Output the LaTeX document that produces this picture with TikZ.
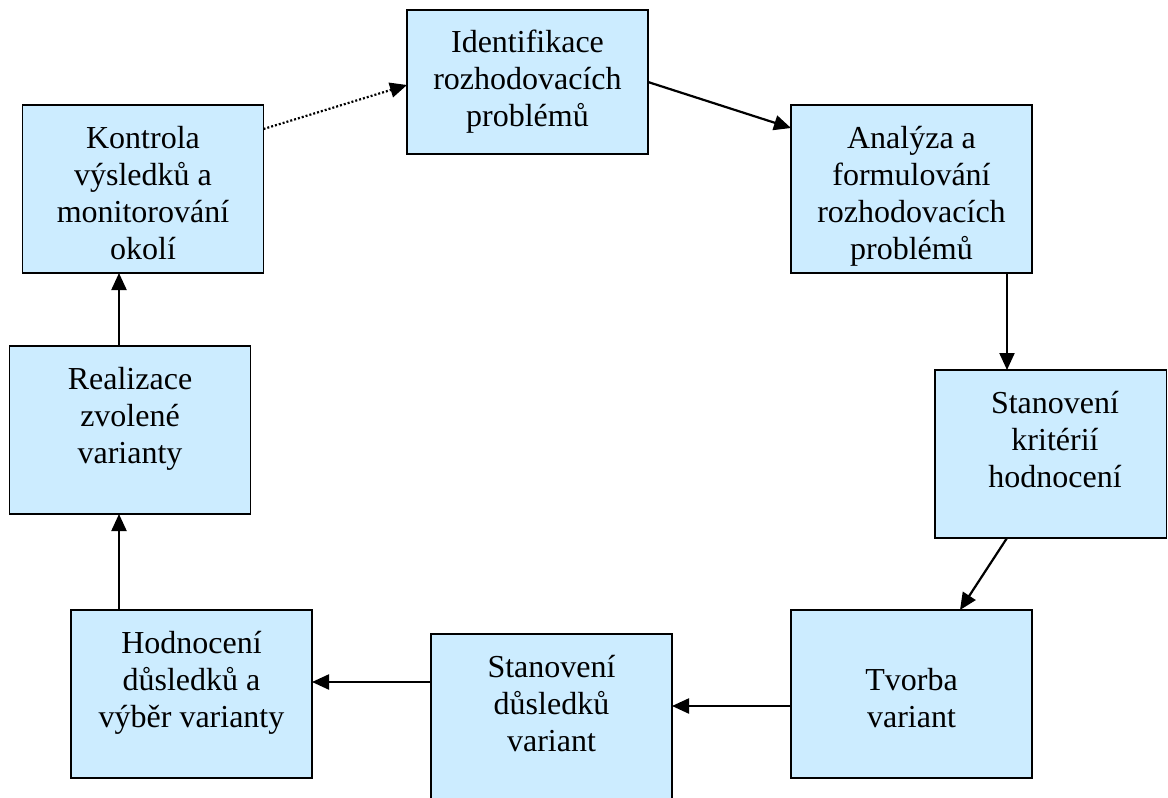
\documentclass[tikz,border=0pt]{standalone}
\usepackage{fontspec}
\setmainfont{Liberation Serif}
\usetikzlibrary{arrows.meta}
\definecolor{boxfill}{HTML}{CCECFF}
\tikzset{
  stage/.style={draw=black, fill=boxfill, line width=1.8pt,
    minimum width=241pt, minimum height=168pt, inner sep=0pt, outer sep=0pt},
  stagetext/.style={font=\fontsize{32}{37}\selectfont, align=center,
    inner sep=0pt, anchor=north},
  flow/.style={line width=2.2pt, -{Triangle[length=17pt,width=15pt]}},
  loopback/.style={flow, dash pattern=on 2pt off 2pt},
}
\begin{document}
\begin{tikzpicture}[x=1pt,y=-1pt]
\useasboundingbox (0,0) rectangle (1168,798);

% stages of the decision cycle
\node[stage, minimum height=144pt] (ident) at (527.5,82) {};
\node[stage] (kon)  at (143,189) {};
\node[stage] (ana)  at (911.5,189) {};
\node[stage, minimum width=231.5pt] (krit) at (1050.75,454) {};
\node[stage] (real) at (130,430) {};
\node[stage] (hod)  at (191.5,694) {};
\node[stage] (dus)  at (551.5,718) {};
\node[stage] (tvo)  at (911.5,694) {};

% labels, set from the top of each box
\node[stagetext] (identT) at ([yshift=-16.5pt]ident.north) {\strut Identifikace\\rozhodovacích\\problémů};
\node[stagetext] (konT)   at ([yshift=-17pt]kon.north)   {\strut Kontrola\\výsledků a\\monitorování\\okolí};
\node[stagetext] (anaT)   at ([yshift=-17pt]ana.north)   {\strut Analýza a\\formulování\\rozhodovacích\\problémů};
\node[stagetext] (kritT)  at ([xshift=4.25pt,yshift=-17pt]krit.north) {\strut Stanovení\\kritérií\\hodnocení};
\node[stagetext] (realT)  at ([yshift=-17pt]real.north)  {\strut Realizace\\zvolené\\varianty};
\node[stagetext] (hodT)   at ([yshift=-17pt]hod.north)   {\strut Hodnocení\\důsledků a\\výběr varianty};
\node[stagetext] (dusT)   at ([yshift=-17pt]dus.north)   {\strut Stanovení\\důsledků\\variant};
\node[stagetext] (tvoT)   at ([yshift=-54pt]tvo.north)     {\strut Tvorba\\variant};

% connectors
\draw[loopback] ([yshift=-24pt]kon.north east) -- ([yshift=-3pt]ident.west);
\draw[flow] (ident.east) -- ([yshift=-23pt]ana.north west);
\draw[flow] ([xshift=-25pt]ana.south east) -- ([xshift=-25pt]ana.south east |- krit.north);
\draw[flow] ([xshift=72pt]krit.south west) -- ([xshift=48.5pt]tvo.north);
\draw[flow] ([yshift=-12pt]tvo.west) -- ([yshift=-12pt]tvo.west -| dus.east);
\draw[flow] ([yshift=36pt]dus.west) -- ([yshift=36pt]dus.west -| hod.east);
\draw[flow] ([xshift=48pt]hod.north west) -- ([xshift=48pt]hod.north west |- real.south);
\draw[flow] ([xshift=109.5pt]real.north west) -- ([xshift=109.5pt]real.north west |- kon.south);
\end{tikzpicture}
\end{document}
